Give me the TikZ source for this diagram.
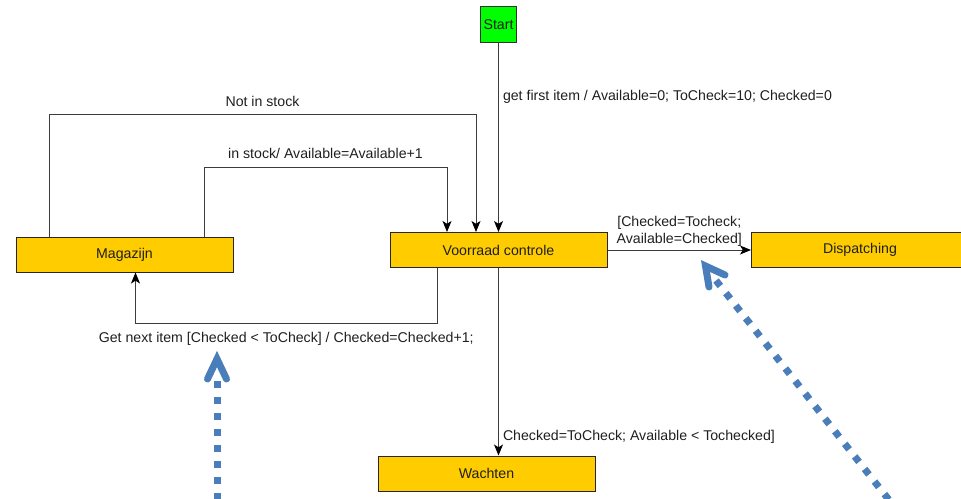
\documentclass[tikz,border=0pt]{standalone}
\usepackage{fontspec}
\setmainfont{Liberation Sans}
\usetikzlibrary{arrows.meta}
\definecolor{stategold}{RGB}{255,204,0}
\definecolor{startgreen}{RGB}{0,255,0}
\definecolor{annblue}{RGB}{74,126,187}
\definecolor{linegray}{RGB}{60,60,60}
\tikzset{
  txt/.style={font=\fontsize{14.15}{17}\selectfont, text=black!88},
  statebox/.style={txt, draw=black!85, line width=1pt, fill=stategold, minimum width=217pt, minimum height=35pt, inner sep=0pt},
  startbox/.style={txt, draw=black!80, line width=1pt, fill=startgreen, minimum width=36pt, minimum height=36.5pt, inner sep=0pt},
  conn/.style={draw=linegray, line width=1pt, -{Stealth[length=11pt,width=9pt,inset=2.8pt]}, arrows={[color=black]}},
  lbl/.style={txt, inner sep=1pt},
  anndots/.style={draw=annblue, line width=7pt, dash pattern=on 7pt off 9pt, line cap=butt},
  annhead/.style={draw=annblue, line width=7pt, line cap=round, line join=miter}
}
\begin{document}
\begin{tikzpicture}[x=1pt,y=-1pt]
\useasboundingbox (0,0) rectangle (961,498);
% states
\node[startbox] (start) at (498.5,24.3) {Start};
\node[statebox] (mag) at (124.5,254.5) {Magazijn};
\node[statebox] (vc) at (498.5,250) {Voorraad controle};
\node[statebox] (disp) at (860,250) {Dispatching};
\node[statebox] (wait) at (486.5,473.5) {Wachten};
% bend coordinates
\coordinate (n1) at (49,114);
\coordinate (n2) at (476,114);
\coordinate (s1) at (204,167);
\coordinate (s2) at (447,167);
\coordinate (g1) at (437,323);
\coordinate (g2) at (135.5,323);
% connectors
\draw[conn] (start) -- node[lbl, pos=0.283, anchor=west, xshift=3pt] {get first item / Available=0; ToCheck=10; Checked=0} (vc);
\draw[conn] (mag.north -| n1) -- (n1) -- node[lbl, above=6pt] {Not in stock} (n2) -- (vc.north -| n2);
\draw[conn] (mag.north -| s1) -- (s1) -- node[lbl, above=6.5pt] {in stock/ Available=Available+1} (s2) -- (vc.north -| s2);
\draw[conn] (vc.south -| g1) -- (g1) -- node[lbl, below=7.5pt] {Get next item [Checked < ToCheck] / Checked=Checked+1;} (g2) -- (mag.south -| g2);
\draw[conn] (vc.south) -- node[lbl, pos=0.9, anchor=west, xshift=3pt] {Checked=ToCheck; Available < Tochecked]} (vc.south |- wait.north);
\draw[conn] (vc.east) -- node[lbl, above=2pt, align=center] {[Checked=Tocheck;\\Available=Checked]} (disp.west);
% annotation arrows
\coordinate (a1tail) at (217,502);
\coordinate (a1start) at (217,381);
\coordinate (a1tip) at (217,359);
\coordinate (a1l) at (207.5,379);
\coordinate (a1r) at (226.5,379);
\draw[anndots] (a1start) -- (a1tail);
\draw[annhead] (a1l) -- (a1tip) -- (a1r);
\coordinate (a2start) at (716,280.5);
\coordinate (a2tail) at (893,505);
\coordinate (a2tip) at (705.5,266);
\coordinate (a2l) at (709,287);
\coordinate (a2r) at (725,275);
\draw[anndots] (a2start) -- (a2tail);
\draw[annhead] (a2l) -- (a2tip) -- (a2r);
\end{tikzpicture}
\end{document}
